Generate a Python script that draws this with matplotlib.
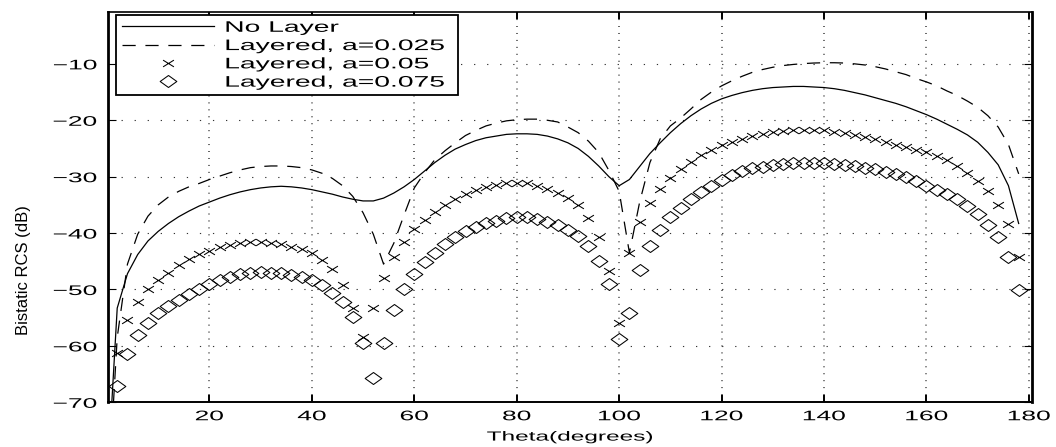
import matplotlib
matplotlib.use("Agg")
import matplotlib.pyplot as plt
from matplotlib.patheffects import AbstractPathEffect
from matplotlib.transforms import Affine2D
from matplotlib.path import Path

# Scattering angle (degrees) for the curves and the marker series
theta_line = [0] + list(range(2, 179, 2))
theta_mark = list(range(2, 179, 2))

# Bistatic RCS (dB), uncoated body
no_layer = [
    -85.0,
    -53.3, -47.2, -43.8, -41.4, -39.7, -38.3, -37.1, -36.1, -35.2, -34.5,
    -33.8, -33.2, -32.7, -32.3, -32.0, -31.8, -31.7, -31.8, -32.0, -32.3,
    -32.7, -33.1, -33.6, -34.0, -34.3, -34.3, -33.8, -32.9, -31.8, -30.5,
    -29.0, -27.5, -26.2, -25.1, -24.3, -23.6, -23.1, -22.8, -22.5, -22.4,
    -22.4, -22.5, -22.8, -23.3, -24.0, -25.0, -26.4, -28.1, -30.0, -31.6,
    -30.5, -28.2, -25.9, -24.0, -22.2, -20.6, -19.2, -18.0, -17.0, -16.2,
    -15.6, -15.1, -14.7, -14.4, -14.2, -14.1, -14.0, -14.0, -14.1, -14.2,
    -14.4, -14.7, -15.1, -15.5, -16.0, -16.5, -17.0, -17.6, -18.3, -19.0,
    -19.8, -20.7, -21.6, -22.6, -23.9, -25.7, -27.9, -31.6, -38.3,
]

# Coated body, layer thickness a = 0.025
layer_025 = [
    -90.0,
    -58.5, -45.5, -40.2, -37.0, -35.0, -33.6, -32.6, -31.8, -31.2, -30.5,
    -29.9, -29.3, -28.8, -28.4, -28.2, -28.1, -28.1, -28.2, -28.4, -28.8,
    -29.4, -30.3, -31.6, -33.5, -36.4, -40.2, -45.5, -41.8, -36.8, -32.0,
    -29.3, -27.0, -25.4, -24.0, -22.7, -21.8, -21.0, -20.5, -20.1, -19.9,
    -19.8, -19.8, -20.0, -20.3, -21.2, -22.2, -23.7, -25.7, -28.9, -32.6,
    -43.5, -34.5, -27.5, -23.3, -21.0, -19.6, -18.0, -16.3, -15.0, -13.9,
    -13.0, -12.2, -11.5, -11.0, -10.6, -10.3, -10.1, -9.95, -9.85, -9.8,
    -9.8, -9.85, -10.0, -10.2, -10.5, -10.9, -11.4, -11.9, -12.6, -13.2,
    -13.9, -14.8, -15.6, -16.6, -17.7, -19.2, -21.2, -24.3, -29.5,
]

# Coated body, layer thickness a = 0.05
layer_05 = [
    -61.3, -55.4, -52.2, -50.0, -48.3, -47.0, -45.7, -44.6, -43.7, -43.1,
    -42.5, -42.1, -41.8, -41.6, -41.6, -41.7, -42.0, -42.4, -42.9, -43.6,
    -44.7, -46.3, -49.2, -53.3, -58.4, -53.3, -48.0, -44.3, -41.6, -39.3,
    -37.7, -36.2, -35.0, -34.0, -33.0, -32.3, -31.8, -31.5, -31.2, -31.1,
    -31.2, -31.6, -32.1, -32.9, -33.8, -35.1, -37.3, -40.7, -46.8, -56.0,
    -43.5, -38.0, -34.6, -32.2, -30.3, -28.7, -27.4, -26.2, -25.2, -24.4,
    -23.8, -23.3, -22.8, -22.4, -22.1, -21.9, -21.8, -21.7, -21.7, -21.8,
    -22.0, -22.2, -22.6, -23.0, -23.4, -23.8, -24.3, -24.8, -25.2, -25.7,
    -26.3, -27.0, -28.1, -29.4, -30.7, -32.5, -35.0, -38.4, -44.2,
]

# Coated body, layer thickness a = 0.075
layer_075 = [
    -67.1, -61.4, -58.1, -55.9, -54.2, -52.9, -51.8, -50.8, -49.9, -49.0,
    -48.3, -47.7, -47.3, -47.0, -46.9, -47.0, -47.1, -47.4, -47.8, -48.3,
    -49.2, -50.6, -52.3, -54.9, -59.5, -65.7, -59.4, -53.6, -50.0, -47.2,
    -45.1, -43.5, -42.0, -40.7, -39.7, -38.9, -38.3, -37.8, -37.4, -37.2,
    -37.2, -37.5, -38.0, -38.6, -39.5, -40.6, -42.3, -44.9, -49.0, -58.7,
    -54.1, -46.5, -42.3, -39.4, -37.2, -35.6, -34.0, -32.8, -31.6, -30.5,
    -29.7, -29.0, -28.5, -28.2, -27.9, -27.7, -27.6, -27.6, -27.6, -27.6,
    -27.7, -27.9, -28.1, -28.4, -28.7, -29.1, -29.6, -30.1, -30.8, -31.6,
    -32.3, -33.0, -34.0, -35.2, -36.7, -38.6, -40.7, -44.2, -50.1,
]

series_labels = ["No Layer", "Layered, a=0.025", "Layered, a=0.05", "Layered, a=0.075"]
x_ticks = [20, 40, 60, 80, 100, 120, 140, 160, 180]
y_ticks = [-70, -60, -50, -40, -30, -20, -10]


class WideGlyphs(AbstractPathEffect):
    """Draw text glyphs widened along one direction about an anchor."""

    def __init__(self, factor=1.85, anchor="left", along="x"):
        super().__init__()
        self.factor = factor
        self.anchor = anchor
        self.along = along

    def draw_path(self, renderer, gc, tpath, affine, rgbFace=None):
        ext = tpath.get_extents()
        if self.along == "x":
            ref = {"left": 0.0,
                   "center": 0.5 * (ext.x0 + ext.x1),
                   "right": ext.x1}[self.anchor]
            widen = Affine2D().translate(-ref, 0).scale(self.factor, 1).translate(ref, 0)
        else:
            ref = 0.5 * (ext.y0 + ext.y1)
            widen = Affine2D().translate(0, -ref).scale(1, self.factor).translate(0, ref)
        renderer.draw_path(gc, tpath, widen + affine, rgbFace)


# Wide, flat marker shapes
cross_marker = Path([(-1, -0.62), (1, 0.62), (-1, 0.62), (1, -0.62)],
                    [Path.MOVETO, Path.LINETO, Path.MOVETO, Path.LINETO])
diamond_marker = Path([(-1, 0), (0, 0.72), (1, 0), (0, -0.72), (-1, 0)],
                      [Path.MOVETO, Path.LINETO, Path.LINETO, Path.LINETO,
                       Path.CLOSEPOLY])

plt.rcParams["font.family"] = ["Liberation Sans", "DejaVu Sans"]
plt.rcParams["axes.unicode_minus"] = True
plt.rcParams["lines.scale_dashes"] = False

fig = plt.figure(figsize=(10.56, 4.47), dpi=100)
ax = fig.add_axes([0.10227, 0.1000, 0.8750, 0.8732])

ax.plot(theta_line, no_layer, color="black", lw=0.9, label=series_labels[0])
dash_line, = ax.plot(theta_line, layer_025, color="black", lw=0.9,
                     label=series_labels[1])
dash_line.set_dashes([9.5, 7])
ax.plot(theta_mark, layer_05, linestyle="none", marker=cross_marker, ms=7.8,
        mew=0.75, mfc="none", mec="black", label=series_labels[2])
ax.plot(theta_mark, layer_075, linestyle="none", marker=diamond_marker, ms=12,
        mew=0.75, mfc="none", mec="black", label=series_labels[3])

ax.set_xlim(0.2, 180.6)
ax.set_ylim(-70, -0.8)
ax.set_xticks(x_ticks)
ax.set_yticks(y_ticks)
ax.tick_params(direction="in", top=True, right=True, labelsize=10)
ax.tick_params(axis="x", length=5, width=1.4, pad=5)
ax.tick_params(axis="y", length=6, width=0.8, pad=8)

# dotted grid: horizontal lines sparse dots, vertical lines dense dots
ax.grid(False)
for yv in y_ticks:
    ax.axhline(yv, color="0.2", lw=0.8, dashes=(0.9, 8.5), zorder=0.5)
for xv in x_ticks:
    ax.axvline(xv, color="0.2", lw=1.1, dashes=(0.7, 4.3), zorder=0.5)

ax.spines["left"].set_linewidth(2.0)
ax.spines["right"].set_linewidth(2.0)
ax.spines["top"].set_linewidth(1.2)
ax.spines["bottom"].set_linewidth(1.4)

for t in ax.get_xticklabels():
    t.set_path_effects([WideGlyphs(1.9, "center")])
for t in ax.get_yticklabels():
    t.set_path_effects([WideGlyphs(1.9, "right")])

xl = ax.set_xlabel("Theta(degrees)", fontsize=9.5, labelpad=6)
xl.set_path_effects([WideGlyphs(1.85, "center")])
yl = ax.set_ylabel("Bistatic RCS (dB)", fontsize=12)
ax.yaxis.set_label_coords(-0.083, 0.34)

leg = ax.legend(loc="upper left", bbox_to_anchor=(0.0087, 0.0, 0.370, 0.9923),
                mode="expand", borderaxespad=0.0, fontsize=11, numpoints=1,
                handlelength=6.0, handletextpad=0.7, borderpad=0.38,
                labelspacing=0.28, fancybox=False, framealpha=1,
                edgecolor="black")
leg.get_frame().set_linewidth(1.3)
for t in leg.get_texts():
    t.set_path_effects([WideGlyphs(1.85, "left")])

fig.savefig("out.png", dpi=100)
